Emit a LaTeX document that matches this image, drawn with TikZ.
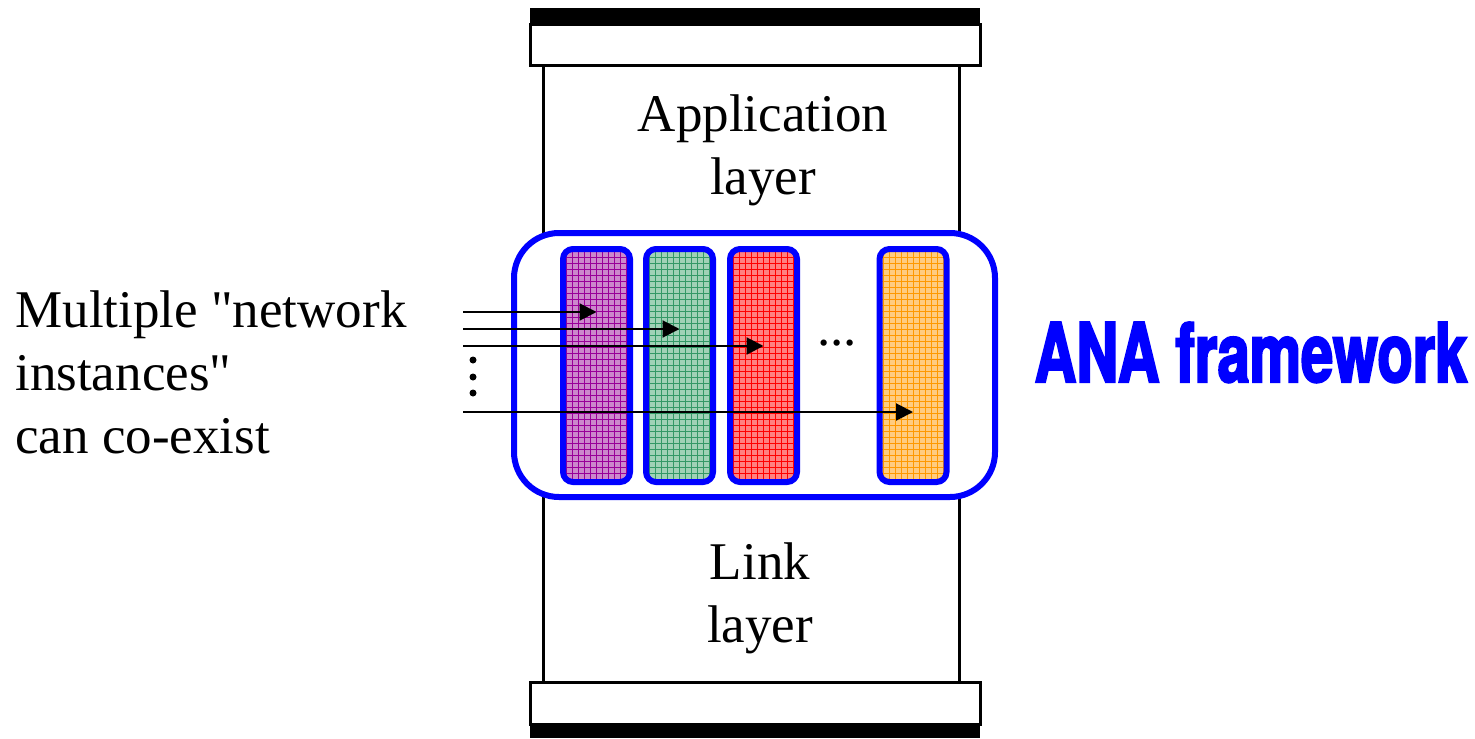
\documentclass[tikz,border=0pt]{standalone}
\usepackage{fontspec}
\usepackage{tikz}
\setmainfont{Liberation Serif}[Ligatures=TeXOff]
\newfontfamily\anafont[FakeStretch=0.705,FakeBold=2.5]{TeX Gyre Heros}
\definecolor{anablue}{RGB}{0,0,255}
\definecolor{purplefill}{RGB}{204,136,204}
\definecolor{purplegrid}{RGB}{153,0,153}
\definecolor{greenfill}{RGB}{160,210,182}
\definecolor{greengrid}{RGB}{51,153,102}
\definecolor{redfill}{RGB}{255,128,128}
\definecolor{redgrid}{RGB}{255,0,0}
\definecolor{orangefill}{RGB}{255,204,128}
\definecolor{orangegrid}{RGB}{255,153,0}
\usetikzlibrary{arrows.meta}

\tikzset{
	instance/.style={draw=anablue, line width=3pt, rounded corners=5pt, minimum width=33.5pt, minimum height=116.5pt, inner sep=0pt,
		path picture={\draw[#1grid, line width=0.4pt, step=3pt] (path picture bounding box.south west) grid (path picture bounding box.north east);},
		fill=#1fill},
	label text/.style={font=\fontsize{26.5}{31.5}\selectfont, inner sep=0pt}
}

\begin{document}
\begin{tikzpicture}[x=0.5pt,y=-0.5pt]
\useasboundingbox (0,0) rectangle (1475,738);
\pgfmathsetmacro{\stackleft}{530}
\pgfmathsetmacro{\stackright}{980}
% top and bottom caps
\fill[black] (\stackleft,8) rectangle (\stackright,25);
\draw[black, line width=1.5pt] (\stackleft,25) rectangle (\stackright,66);
\draw[black, line width=1.5pt] (\stackleft,682) rectangle (\stackright,724);
\fill[black] (\stackleft,724) rectangle (\stackright,738);
\draw[black, line width=1.5pt] (543,66) -- (543,682);
\draw[black, line width=1.5pt] (959,66) -- (959,682);

\node[draw=anablue, line width=3pt, fill=white, rounded corners=22.5pt, minimum width=240.5pt, minimum height=132pt] (ana) at (754.5,365) {};

\foreach \colname/\x in {purple/596.5, green/679.5, red/763.5, orange/913}{%
	\node[instance=\colname] (\colname) at (\x,365.5) {};
}
\node[label text] (dots) at (837,343) {...};

\foreach \y/\colname in {312/purple, 329/green, 346/red, 412/orange}{%
	\coordinate (start-\colname) at (463,\y);
	\draw[black, line width=1pt, -{Triangle[length=8.5pt,width=8.5pt]}] (start-\colname) -- (start-\colname -| \colname.center);
}
\foreach \y in {360,377,393}{%
	\fill[black] (473,\y) circle (3.5);
}

\node[label text, align=center] (app) at (763,150) {Application\\layer};
\node[label text, align=center] (link) at (760,598) {Link\\layer};
\node[label text, align=left, anchor=west] (multi) at (15,372) {Multiple "network\\instances"\\can co-exist};
\node[anchor=base, text=anablue, inner sep=0pt, font=\anafont\bfseries\fontsize{41}{41}\selectfont] (anatext) at (1251,382) {ANA framework};
\end{tikzpicture}
\end{document}
